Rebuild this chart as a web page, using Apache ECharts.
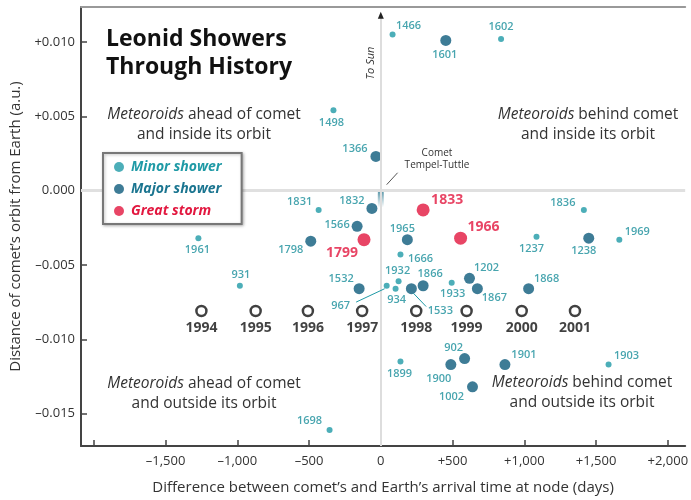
<!DOCTYPE html>
<html>
<head>
<meta charset="utf-8">
<title>Leonid Showers Through History</title>
<script src="https://cdn.jsdelivr.net/npm/echarts@6/dist/echarts.min.js"></script>
<style>
  html, body { margin: 0; padding: 0; background: #fff; }
  #chart { width: 691px; height: 500px; }
</style>
</head>
<body>
<div id="chart"></div>
<script>
// data (x = days, y = a.u.)
const minorYears = ["1466", "1602", "1498", "1831", "1961", "931", "1836", "1237", "1969", "1666", "1933", "1932", "934", "967", "1899", "1903", "1698"];
const minorX = [82, 838, -330, -433, -1271, -982, 1415, 1085, 1662, 137, 494, 124, 103, 41, 137, 1587, -357];
const minorY = [0.0105, 0.0102, 0.0054, -0.0013, -0.0032, -0.0064, -0.0013, -0.0031, -0.0033, -0.0043, -0.0062, -0.0061, -0.0066, -0.0064, -0.0115, -0.0117, -0.0161];

const majorYears = ["1601", "1366", "1832", "1566", "1798", "1532", "1965", "1238", "1866", "1533", "1202", "1867", "1868", "902", "1900", "1901", "1002"];
const majorX = [453, -34, -62, -165, -488, -151, 185, 1449, 295, 213, 618, 673, 1030, 584, 488, 865, 639];
const majorY = [0.0101, 0.0023, -0.0012, -0.0024, -0.0034, -0.0066, -0.0033, -0.0032, -0.0064, -0.0066, -0.0059, -0.0066, -0.0066, -0.0113, -0.0117, -0.0117, -0.0132];

const stormYears = ["1833", "1966", "1799"];
const stormX = [295, 556, -117];
const stormY = [-0.0013, -0.0032, -0.0033];

const futureYears = ["1994", "1995", "1996", "1997", "1998", "1999", "2000", "2001"];
const futureX = [-1250, -872, -508, -130, 247, 598, 982, 1353];
const futureY = [-0.0081, -0.0081, -0.0081, -0.0081, -0.0081, -0.0081, -0.0081, -0.0081];

const xTicks = [-2000, -1500, -1000, -500, 0, 500, 1000, 1500, 2000];
const xLabels = [-1500, -1000, -500, 0, 500, 1000, 1500, 2000];
const yTicks = [-0.015, -0.01, -0.005, 0, 0.005, 0.01];

// where each year label sits relative to its dot (px)
const labelOffset = {
  1466: [16, -9], 1602: [0, -12], 1498: [-2, 13], 1831: [-19, -8], 1961: [-1, 12],
  931: [1, -11], 1836: [-21, -7], 1237: [-5, 12], 1969: [18, -8], 1666: [20, 4],
  1933: [1, 11], 1932: [-1, -10], 934: [1, 11], 967: [-46, 20], 1899: [-1, 12],
  1903: [18, -9], 1698: [-20, -9],
  1601: [-1, 14], 1366: [-21, -8], 1832: [-20, -8], 1566: [-20, -1], 1798: [-20, 9],
  1532: [-18, -10], 1965: [-5, -11], 1238: [-5, 13], 1866: [7, -12], 1533: [29, 22],
  1202: [17, -10], 1867: [17, 9], 1868: [18, -10], 902: [-11, -11], 1900: [-12, 14],
  1901: [19, -10], 1002: [-21, 10],
  1833: [24, -10], 1966: [23, -11], 1799: [-22, 13]
};

const FONT = "'Open Sans', sans-serif";
const TEAL = "#1f9aa6";
const DARK = "#0e5b7c";
const LABEL_TEAL = "#1a8e9b";
const RED = "#e2173f";

function points(names, xs, ys) {
  return names.map((n, i) => ({
    name: n,
    value: [xs[i], ys[i]],
    label: { offset: labelOffset[n] || [0, 0] }
  }));
}

function fmtX(v) {
  if (v === 0) return "0";
  const s = Math.abs(v).toLocaleString("en-US");
  return v > 0 ? "+" + s : "\u2013" + s;
}
function fmtY(v) {
  if (Math.abs(v) < 1e-9) return "0.000";
  return (v > 0 ? "+" : "\u2013") + Math.abs(v).toFixed(3);
}

// quadrant captions, first word italic
function caption(x, y, text) {
  return {
    type: "text", x: x, y: y, z: 2,
    style: {
      text: text, fill: "#333", font: "15.5px " + FONT,
      align: "center", verticalAlign: "middle", lineHeight: 20,
      rich: { i: { fontStyle: "italic", fontSize: 15.5, fontFamily: FONT, fill: "#333" } }
    }
  };
}

const chart = echarts.init(document.getElementById("chart"), null, { renderer: "canvas" });

const yearLabel = {
  show: true,
  position: "inside",
  formatter: "{b}",
  color: LABEL_TEAL,
  fontFamily: FONT,
  fontSize: 11,
  fontWeight: 600
};

const option = {
  backgroundColor: "#fff",
  animation: false,
  textStyle: { fontFamily: FONT },
  grid: { left: 78, right: 0, top: 7, bottom: 53 },
  legend: {
    z: 20,
    left: 103,
    top: 153,
    orient: "vertical",
    selectedMode: false,
    icon: "circle",
    itemWidth: 10,
    itemHeight: 10,
    itemGap: 8,
    padding: [7, 20, 6, 11],
    backgroundColor: "#fff",
    borderColor: "#777",
    borderWidth: 2,
    borderRadius: 0,
    shadowColor: "rgba(0,0,0,0.25)",
    shadowBlur: 3,
    shadowOffsetX: 1,
    shadowOffsetY: 1,
    textStyle: { fontFamily: FONT, fontSize: 14, fontWeight: "bold", fontStyle: "italic", padding: [0, 0, 0, 2] },
    data: [
      { name: "Minor shower", textStyle: { color: TEAL } },
      { name: "Major shower", textStyle: { color: "#1b7590" } },
      { name: "Great storm", textStyle: { color: RED } }
    ]
  },
  xAxis: [
    {
      type: "value",
      min: -2089,
      max: 2121,
      name: "Difference between comet\u2019s and Earth\u2019s arrival time at node (days)",
      nameLocation: "middle",
      nameGap: 34,
      nameTextStyle: { color: "#333", fontSize: 15, fontFamily: FONT },
      axisLine: { show: true, onZero: false, lineStyle: { color: "#444", width: 2 } },
      axisTick: { show: true, inside: true, length: 6, customValues: xTicks, lineStyle: { color: "#444", width: 1.5 } },
      axisLabel: { customValues: xLabels, formatter: fmtX, color: "#333", fontSize: 13, margin: 9 },
      splitLine: { show: false }
    },
    {
      type: "value",
      position: "top",
      min: -2089,
      max: 2121,
      axisLine: { show: true, onZero: false, lineStyle: { color: "#999", width: 2 } },
      axisTick: { show: false },
      axisLabel: { show: false },
      splitLine: { show: false }
    }
  ],
  yAxis: {
    type: "value",
    min: -0.01718,
    max: 0.01235,
    name: "Distance of comet\u2019s orbit from Earth (a.u.)",
    nameLocation: "middle",
    nameRotate: 90,
    nameGap: 58,
    nameTextStyle: { color: "#333", fontSize: 15, fontFamily: FONT },
    axisLine: { show: true, onZero: false, lineStyle: { color: "#444", width: 2 } },
    axisTick: { show: true, inside: true, length: 6, customValues: yTicks, lineStyle: { color: "#444", width: 1.5 } },
    axisLabel: { customValues: yTicks, formatter: fmtY, color: "#333", fontSize: 13, margin: 6 },
    splitLine: { show: false }
  },
  graphic: [
    {
      type: "text", left: 106, top: 25,
      style: { text: "Leonid Showers\nThrough History", fill: "#111", font: "bold 23px " + FONT, lineHeight: 28 }
    },
    caption(204, 125, "{i|Meteoroids} ahead of comet\nand inside its orbit"),
    caption(588, 125, "{i|Meteoroids} behind comet\nand inside its orbit"),
    caption(204, 394, "{i|Meteoroids} ahead of comet\nand outside its orbit"),
    caption(582, 393, "{i|Meteoroids} behind comet\nand outside its orbit"),
    {
      type: "text", x: 371, y: 63, rotation: Math.PI / 2,
      style: { text: "To Sun", fill: "#333", font: "italic 11px " + FONT, align: "center", verticalAlign: "middle" }
    },
    {
      type: "text", x: 437, y: 159,
      style: { text: "Comet\nTempel-Tuttle", fill: "#333", font: "10px " + FONT, align: "center", verticalAlign: "middle", lineHeight: 12 }
    }
  ],
  series: [
    {
      // zero lines, arrow and leader lines
      type: "scatter",
      name: "guides",
      data: [],
      z: 1,
      silent: true,
      markLine: {
        silent: true,
        symbol: "none",
        label: { show: false },
        data: [
          { yAxis: 0, lineStyle: { color: "#e0e0e0", width: 3, type: "solid" } },
          [{ coord: [0, -0.01718] }, { coord: [0, 0.0117] }],
          [{ coord: [41, 0.0004], lineStyle: { color: "#555", width: 1 } }, { coord: [117, 0.0012] }],
          [{ coord: [-172, -0.0075], lineStyle: { color: TEAL, width: 1 } }, { coord: [27, -0.0066] }],
          [{ coord: [227, -0.0069], lineStyle: { color: TEAL, width: 1 } }, { coord: [316, -0.0078] }]
        ],
        lineStyle: { color: "#ddd", width: 2, type: "solid" }
      },
      markPoint: {
        silent: true,
        symbol: "triangle",
        symbolSize: [6, 7],
        itemStyle: { color: "#222" },
        label: { show: false },
        data: [{ coord: [0, 0.0118] }]
      }
    },
    {
      type: "scatter",
      name: "Comet Tempel-Tuttle",
      data: [[0, 0]],
      symbol: "roundRect",
      symbolSize: [6, 18],
      symbolOffset: [0, 8],
      z: 3,
      itemStyle: {
        color: new echarts.graphic.LinearGradient(0, 0, 0, 1, [
          { offset: 0, color: "#1a6f88" },
          { offset: 1, color: "rgba(255,255,255,0.9)" }
        ])
      }
    },
    {
      type: "scatter",
      name: "Minor shower",
      symbolSize: 6,
      z: 4,
      itemStyle: { color: TEAL },
      label: yearLabel,
      data: points(minorYears, minorX, minorY)
    },
    {
      type: "scatter",
      name: "Major shower",
      symbolSize: 11,
      z: 4,
      itemStyle: { color: DARK },
      label: yearLabel,
      data: points(majorYears, majorX, majorY)
    },
    {
      type: "scatter",
      name: "Great storm",
      symbolSize: 13,
      z: 5,
      itemStyle: { color: RED },
      label: Object.assign({}, yearLabel, { color: RED, fontSize: 14, fontWeight: "bold" }),
      data: points(stormYears, stormX, stormY)
    },
    {
      type: "scatter",
      name: "Earth",
      symbol: "circle",
      symbolSize: 10,
      z: 4,
      itemStyle: { color: "#fff", borderColor: "#111", borderWidth: 2.5 },
      label: {
        show: true, position: "bottom", distance: 4, formatter: "{b}",
        color: "#111", fontFamily: FONT, fontSize: 14, fontWeight: "bold"
      },
      data: futureYears.map((n, i) => ({ name: n, value: [futureX[i], futureY[i]] }))
    }
  ]
};

chart.setOption(option);
</script>
</body>
</html>
